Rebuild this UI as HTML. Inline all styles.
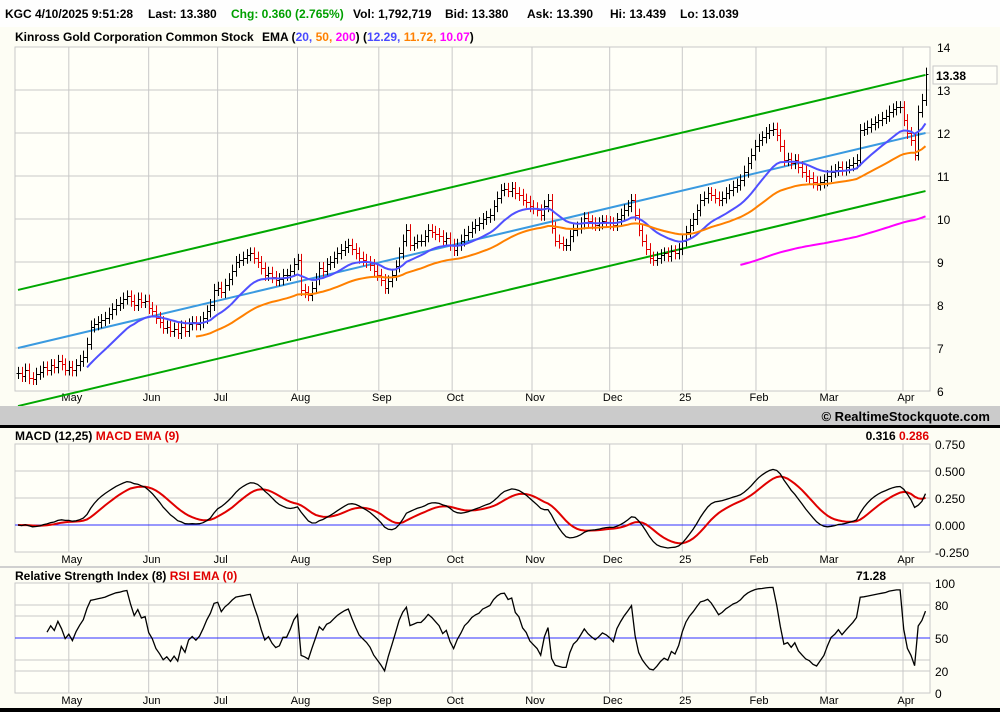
<!DOCTYPE html>
<html><head><meta charset="utf-8"><style>
html,body{margin:0;padding:0;background:#fdfdf4;}
svg{display:block;font-family:"Liberation Sans",sans-serif;}
</style></head><body>
<svg id="chart" width="1000" height="712" xmlns="http://www.w3.org/2000/svg">
<rect x="0" y="0" width="1000" height="712" fill="#fdfdf4"/>
<rect x="0" y="0" width="1000" height="27" fill="#fefefe"/>
<g font-size="12" font-weight="bold" fill="#000">
<text x="5" y="18">KGC  4/10/2025 9:51:28</text>
<text x="148" y="18">Last: 13.380</text>
<text x="231" y="18" fill="#00a000">Chg: 0.360 (2.765%)</text>
<text x="353" y="18">Vol: 1,792,719</text>
<text x="445" y="18">Bid: 13.380</text>
<text x="527" y="18">Ask: 13.390</text>
<text x="610" y="18">Hi: 13.439</text>
<text x="680" y="18">Lo: 13.039</text>
</g>
<g font-size="12" font-weight="bold">
<text x="15" y="41">Kinross Gold Corporation Common Stock</text>
<text x="262" y="41">EMA (<tspan fill="#4a4aff">20,</tspan> <tspan fill="#ff8000">50,</tspan> <tspan fill="#ff00ff">200</tspan>)  (<tspan fill="#4a4aff">12.29,</tspan> <tspan fill="#ff8000">11.72,</tspan> <tspan fill="#ff00ff">10.07</tspan>)</text>
</g>
<rect x="15" y="47" width="915" height="344" fill="#fffff8" stroke="#c8c8c8"/>
<g id="priceGrid"></g>
<g id="priceMarks"></g>
<g><rect x="933" y="66" width="64" height="18" fill="#fffff8" stroke="#c8c8c8"/><text x="936" y="80" font-size="12" font-weight="bold">13.38</text></g>
<rect x="0" y="406" width="1000" height="19" fill="#cbcbcb"/>
<text x="990" y="421" text-anchor="end" font-size="13" font-weight="bold">© RealtimeStockquote.com</text>
<rect x="0" y="425" width="1000" height="3" fill="#000"/>
<text x="15" y="440" font-size="12" font-weight="bold">MACD (12,25)  <tspan fill="#e00000">MACD EMA (9)</tspan></text>
<text x="929" y="440" text-anchor="end" font-size="12" font-weight="bold">0.316 <tspan fill="#e00000">0.286</tspan></text>
<rect x="15" y="444" width="915" height="108" fill="#fffff8" stroke="#c8c8c8"/>
<g id="macdG"></g>
<rect x="0" y="566" width="1000" height="2" fill="#d0d0d0"/>
<text x="15" y="580" font-size="12" font-weight="bold">Relative Strength Index (8)  <tspan fill="#e00000">RSI EMA (0)</tspan></text>
<text x="886" y="580" text-anchor="end" font-size="12" font-weight="bold">71.28</text>
<rect x="15" y="583" width="915" height="110" fill="#fffff8" stroke="#c8c8c8"/>
<g id="rsiG"></g>
<rect x="0" y="708" width="1000" height="4" fill="#000"/>
</svg>
<script>
const closes=[6.42,6.35,6.5,6.3,6.28,6.4,6.45,6.55,6.5,6.6,
6.55,6.7,6.62,6.5,6.56,6.48,6.6,6.7,6.8,7.1,
7.5,7.55,7.6,7.65,7.7,7.8,7.9,8.0,8.05,8.15,
8.2,8.1,8.0,8.15,8.07,8.1,7.93,7.85,7.7,7.6,
7.47,7.5,7.4,7.45,7.35,7.5,7.4,7.55,7.6,7.55,
7.6,7.7,7.85,8.0,8.35,8.4,8.3,8.47,8.6,8.8,
9.0,9.05,9.1,9.16,9.2,9.1,9.0,8.85,8.7,8.75,
8.65,8.58,8.6,8.7,8.7,8.8,8.95,9.05,8.35,8.3,
8.23,8.4,8.6,8.86,8.8,8.95,9.0,9.1,9.2,9.28,
9.35,9.4,9.3,9.2,9.1,9.05,9.0,8.93,8.8,8.7,
8.58,8.4,8.55,8.7,8.9,9.2,9.5,9.74,9.4,9.45,
9.5,9.5,9.6,9.74,9.7,9.65,9.6,9.5,9.55,9.4,
9.28,9.4,9.5,9.63,9.7,9.8,9.86,9.9,10.0,10.05,
10.1,10.3,10.5,10.67,10.7,10.65,10.72,10.6,10.56,10.45,
10.4,10.3,10.25,10.2,10.1,10.3,10.44,9.8,9.5,9.45,
9.4,9.4,9.6,9.74,9.8,9.9,10.02,9.95,9.9,9.86,
9.9,9.95,9.93,9.9,9.86,10.0,10.1,10.2,10.3,10.44,
10.1,9.74,9.5,9.3,9.1,9.05,9.1,9.16,9.2,9.15,
9.25,9.2,9.3,9.5,9.7,9.86,10.0,10.2,10.44,10.5,
10.6,10.56,10.5,10.44,10.5,10.6,10.67,10.75,10.8,10.9,
11.1,11.3,11.5,11.7,11.84,11.9,12.0,12.07,12.1,11.95,
11.7,11.37,11.4,11.3,11.37,11.2,11.1,11.0,10.95,10.85,
10.8,10.85,10.9,11.0,11.1,11.14,11.2,11.15,11.2,11.25,
11.3,11.37,12.07,12.1,12.15,12.2,12.25,12.3,12.35,12.4,
12.5,12.55,12.6,12.6,12.3,12.0,11.84,11.5,12.5,12.77,13.38];
const monthLabels=["May","Jun","Jul","Aug","Sep","Oct","Nov","Dec","25","Feb","Mar","Apr"];
const monthIdx=[14,36,55,77,99.4,119.6,141.6,163,183,203.3,222.6,243.8];
const priceTicks=[14,13,12,11,10,9,8,7,6];
const macdTicks=[0.75,0.5,0.25,0,-0.25];
const macdTickLabels=["0.750","0.500","0.250","0.000","-0.250"];
const rsiTicks=[100,80,70,50,30,20,0];
const rsiTickLabels=["100","80","","50","","20","0"];
const trendStart=[0,7.0];
const trendEnd=[250,12.0];
const channelWidth=[1.35];
const emaPeriods=[20,50,200];

const NS="http://www.w3.org/2000/svg";
function xs(i){return 18+i*3.63;}
function yp(v){return 90+(13-v)*43;}
function ym(v){return 525-v*108;}
function yr(v){return 693-v*1.1;}
function mk(tag,attrs,parent){const e=document.createElementNS(NS,tag);for(const k in attrs)e.setAttribute(k,attrs[k]);parent.appendChild(e);return e;}
function ema(arr,n,start){const k=2/(n+1);const out=[];let e=null;for(let i=0;i<arr.length;i++){if(i<start){out.push(null);continue;}if(e===null){let s=0,c=0;for(let j=Math.max(0,i-n+1);j<=i;j++){s+=arr[j];c++;}e=s/c;}else e=arr[i]*k+e*(1-k);out.push(e);}return out;}
function pathOf(vals,yf){let d="";vals.forEach((v,i)=>{if(v===null)return;d+=(d?"L":"M")+xs(i).toFixed(1)+","+yf(v).toFixed(1);});return d;}

function grid(g,y0,y1,ticks,yf,labels,lx,labelY){
  monthIdx.forEach((m,i)=>{
    const l=mk("line",{x1:xs(m),x2:xs(m),y1:y0,y2:y1,stroke:"#c8c8c8"},g);
    
    
    const t=mk("text",{x:xs(m)+3,y:labelY,"text-anchor":"middle","font-size":"11",fill:"#000"},g);
    t.textContent=monthLabels[i];
    
    
  });
  ticks.forEach((v,i)=>{
    const y=yf(v);
    const l=mk("line",{x1:15,x2:930,y1:y,y2:y,stroke:"#c8c8c8"},g);
    
    
    if(labels[i]){
      const t=mk("text",{x:lx,y:y+5,"font-size":"12",fill:"#000"},g);
      t.textContent=labels[i];
      
      
    }
  });
}
const pg=document.getElementById("priceGrid");
grid(pg,47,391,priceTicks,yp,priceTicks.map(String),937,401);
const pm=document.getElementById("priceMarks");
const cs=trendStart[1],ce=trendEnd[1],cw=channelWidth[0];
[[cw,"#00a800","channel-upper"],[0,"#3a9ae0","trend-line"],[-cw,"#00a800","channel-lower"]].forEach(c=>{
  const l=mk("line",{x1:xs(trendStart[0]),y1:yp(cs+c[0]),x2:xs(trendEnd[0]),y2:yp(ce+c[0]),stroke:c[1],"stroke-width":2},pm);
  
  
});
closes.forEach((c,i)=>{
  const o=i>0?closes[i-1]:c;
  const hi=Math.max(o,c)+0.14, lo=Math.min(o,c)-0.14;
  const col=c<o?"#e00000":"#000";
  const g=mk("g",{stroke:col,"stroke-width":1},pm);
  
  
  const x=Math.round(xs(i))+0.5;
  mk("line",{x1:x,x2:x,y1:yp(hi),y2:yp(lo)},g);
  mk("line",{x1:x-2,x2:x,y1:Math.round(yp(o))+0.5,y2:Math.round(yp(o))+0.5},g);
  mk("line",{x1:x,x2:x+2,y1:Math.round(yp(c))+0.5,y2:Math.round(yp(c))+0.5},g);
});
const emaCols=["#5050ff","#ff8000","#ff00ff"];
const emaNames=["ema-20","ema-50","ema-200"];
emaPeriods.forEach((n,k)=>{
  const e=ema(closes,n,n-1);
  const p=mk("path",{d:pathOf(e,yp),fill:"none",stroke:emaCols[k],"stroke-width":2},pm);
  
  
});
const mg=document.getElementById("macdG");
grid(mg,444,552,macdTicks,ym,macdTickLabels,935,563);
const zl=mk("line",{x1:15,x2:930,y1:ym(0),y2:ym(0),stroke:"#3030ff"},mg);


const e12=ema(closes,12,0),e25=ema(closes,25,0);
const macd=closes.map((c,i)=>e12[i]-e25[i]);
const sig=ema(macd,9,0);
const sp=mk("path",{d:pathOf(sig,ym),fill:"none",stroke:"#e00000","stroke-width":2},mg);


const mp=mk("path",{d:pathOf(macd,ym),fill:"none",stroke:"#000","stroke-width":1.3},mg);


const rg=document.getElementById("rsiG");
grid(rg,583,693,rsiTicks,yr,rsiTickLabels,935,704);
const ml=mk("line",{x1:15,x2:930,y1:yr(50),y2:yr(50),stroke:"#3030ff"},rg);


const N=8;const rsi=[];let ag=0,al=0;
for(let i=0;i<closes.length;i++){
  if(i===0){rsi.push(null);continue;}
  const d=closes[i]-closes[i-1];const g=Math.max(d,0),l=Math.max(-d,0);
  if(i<=N){ag+=g/N;al+=l/N;rsi.push(i===N?100-100/(1+ag/(al||1e-9)):null);}
  else{ag=(ag*(N-1)+g)/N;al=(al*(N-1)+l)/N;rsi.push(100-100/(1+ag/(al||1e-9)));}
}
const rp=mk("path",{d:pathOf(rsi,yr),fill:"none",stroke:"#000","stroke-width":1.3},rg);


</script>
</body></html>
